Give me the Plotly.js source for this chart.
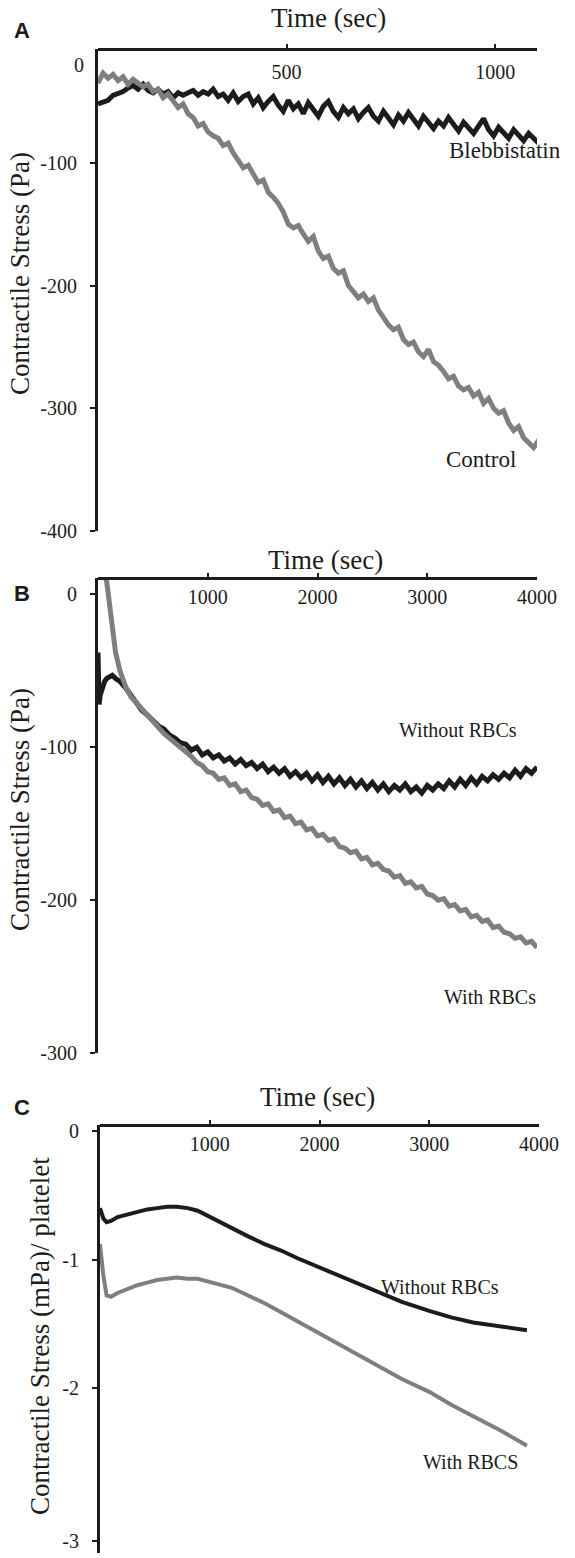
<!DOCTYPE html>
<html>
<head>
<meta charset="utf-8">
<script src="https://cdn.plot.ly/plotly-3.0.1.min.js"></script>
<style>html,body{margin:0;padding:0;background:#fff;}#chart{width:575px;height:1558px;}</style>
</head>
<body>
<div id="chart"></div>
<script>
// ---------- Panel A data ----------
const aTime = [48,60,72,84,96,108,120,132,144,156,168,180,192,204,216,228,240,252,264,276,288,300,312,324,336,348,360,372,384,396,408,420,432,444,456,468,480,492,504,516,528,540,552,564,576,588,600,612,624,636,648,660,672,684,696,708,720,732,744,756,768,780,792,804,816,828,840,852,864,876,888,900,912,924,936,948,960,972,984,996,1008,1020,1032,1044,1056,1068,1080,1092,1104,1116];
const aBlebbistatin = [-52,-50,-49,-45,-44,-42,-39,-37,-40,-36,-41,-43,-40,-44,-42,-47,-43,-45,-43,-41,-45,-42,-44,-40,-46,-44,-49,-43,-50,-46,-44,-52,-47,-55,-50,-46,-53,-58,-49,-56,-52,-60,-51,-57,-62,-54,-50,-58,-63,-55,-60,-56,-64,-59,-55,-62,-66,-58,-63,-69,-61,-66,-59,-64,-70,-62,-67,-72,-66,-70,-63,-68,-74,-67,-71,-76,-70,-64,-73,-78,-71,-76,-80,-73,-78,-82,-76,-80,-84,-80];
const aControl = [-35,-27,-31,-28,-33,-30,-36,-32,-35,-38,-36,-42,-40,-47,-44,-50,-55,-52,-60,-63,-70,-68,-75,-78,-80,-86,-84,-92,-99,-104,-102,-110,-116,-114,-124,-128,-133,-140,-150,-153,-151,-158,-164,-160,-172,-178,-176,-186,-190,-188,-200,-205,-210,-207,-213,-210,-220,-226,-232,-236,-234,-244,-248,-246,-254,-258,-252,-262,-265,-270,-276,-274,-282,-285,-283,-290,-287,-296,-292,-300,-304,-302,-312,-318,-315,-324,-328,-332,-326,-334];
const aXTicks = [500, 1000];
const aYTicks = [-100, -200, -300, -400];

// ---------- Panel B data ----------
const bTime = [0,10,20,40,60,80,100,130,160,200,250,300,350,400,450,500,550,600,650,700,750,800,850,900,950,1000,1050,1100,1150,1200,1250,1300,1350,1400,1450,1500,1550,1600,1650,1700,1750,1800,1850,1900,1950,2000,2050,2100,2150,2200,2250,2300,2350,2400,2450,2500,2550,2600,2650,2700,2750,2800,2850,2900,2950,3000,3050,3100,3150,3200,3250,3300,3350,3400,3450,3500,3550,3600,3650,3700,3750,3800,3850,3900,3950,4000];
const bWithoutRBCs = [-38,-72,-66,-61,-57,-55,-54,-53,-55,-57,-61,-66,-70,-76,-79,-83,-86,-88,-92,-94,-97,-98,-102,-100,-105,-103,-107,-105,-109,-107,-111,-108,-112,-110,-114,-111,-116,-113,-117,-114,-119,-116,-120,-117,-122,-118,-123,-119,-124,-120,-125,-121,-126,-122,-127,-123,-128,-124,-129,-125,-128,-124,-129,-126,-130,-125,-128,-124,-127,-122,-126,-121,-125,-120,-124,-119,-122,-118,-121,-117,-120,-115,-119,-114,-117,-113];
const bWithRBCs = [40,35,30,22,14,8,-4,-22,-38,-50,-60,-67,-71,-76,-80,-84,-88,-91,-94,-97,-99,-103,-106,-110,-112,-116,-117,-121,-120,-125,-124,-129,-128,-133,-134,-138,-137,-142,-141,-146,-145,-150,-149,-154,-153,-158,-157,-161,-160,-165,-166,-169,-168,-173,-172,-177,-176,-180,-181,-185,-184,-189,-188,-192,-191,-196,-197,-200,-199,-204,-203,-207,-206,-211,-210,-214,-213,-218,-217,-221,-222,-225,-224,-228,-227,-231];
const bXTicks = [1000, 2000, 3000, 4000];
const bYTicks = [0, -100, -200, -300];

// ---------- Panel C data ----------
const cTime = [0,30,60,100,160,250,340,430,520,610,700,800,890,980,1070,1200,1350,1500,1650,1800,2000,2250,2500,2750,3000,3200,3400,3650,3890];
const cWithoutRBCs = [-0.60,-0.68,-0.71,-0.70,-0.67,-0.65,-0.63,-0.61,-0.60,-0.59,-0.59,-0.60,-0.62,-0.66,-0.70,-0.76,-0.82,-0.88,-0.93,-0.99,-1.06,-1.15,-1.24,-1.33,-1.40,-1.45,-1.49,-1.52,-1.55];
const cWithRBCS = [-0.88,-1.12,-1.28,-1.29,-1.26,-1.23,-1.20,-1.18,-1.16,-1.15,-1.14,-1.15,-1.15,-1.17,-1.19,-1.22,-1.28,-1.34,-1.41,-1.48,-1.58,-1.69,-1.81,-1.93,-2.03,-2.13,-2.22,-2.33,-2.45];
const cXTicks = [1000, 2000, 3000, 4000];
const cYTicks = [0, -1, -2, -3];

// ---------- styling ----------
const W = 575, H = 1558;
const BLACK = '#1c1c1c', GRAY = '#7f7f7f';
const SERIF = "'Liberation Serif', 'Times New Roman', serif";
const SANS = "'Liberation Sans', Arial, sans-serif";
const px2x = p => p / W;
const px2y = p => 1 - p / H;

function xAxis(domain, range, tickvals, linePx, standoff) {
  return {
    domain: domain, range: range, side: 'bottom', anchor: 'free', position: px2y(linePx),
    tickvals: tickvals, ticktext: tickvals.map(String),
    ticks: 'inside', ticklen: 4, tickwidth: 2, tickcolor: BLACK,
    ticklabelstandoff: standoff, ticklabeloverflow: 'allow',
    showline: true, linewidth: 3, linecolor: BLACK,
    showgrid: false, zeroline: false,
    tickfont: {family: SERIF, size: 20, color: BLACK}
  };
}
function yAxis(domain, range, tickvals, ticktext, anchor) {
  return {
    domain: domain, range: range, anchor: anchor,
    tickvals: tickvals, ticktext: ticktext,
    ticks: 'outside', ticklen: 5, tickwidth: 2, tickcolor: BLACK,
    ticklabelstandoff: 9, ticklabeloverflow: 'allow',
    showline: true, linewidth: 3, linecolor: BLACK,
    showgrid: false, zeroline: false,
    tickfont: {family: SERIF, size: 20, color: BLACK}
  };
}

const traces = [
  {x: aTime, y: aBlebbistatin, xaxis: 'x', yaxis: 'y', mode: 'lines', line: {color: BLACK, width: 5}, name: 'Blebbistatin'},
  {x: aTime, y: aControl, xaxis: 'x', yaxis: 'y', mode: 'lines', line: {color: GRAY, width: 5}, name: 'Control'},
  {x: bTime, y: bWithoutRBCs, xaxis: 'x2', yaxis: 'y2', mode: 'lines', line: {color: BLACK, width: 5}, name: 'Without RBCs'},
  {x: bTime, y: bWithRBCs, xaxis: 'x2', yaxis: 'y2', mode: 'lines', line: {color: GRAY, width: 5}, name: 'With RBCs'},
  {x: cTime, y: cWithoutRBCs, xaxis: 'x3', yaxis: 'y3', mode: 'lines', line: {color: BLACK, width: 4}, name: 'Without RBCs'},
  {x: cTime, y: cWithRBCS, xaxis: 'x3', yaxis: 'y3', mode: 'lines', line: {color: GRAY, width: 4}, name: 'With RBCS'}
];

const tickFont = {family: SERIF, size: 20, color: BLACK};
const titleFont = {family: SERIF, size: 27, color: BLACK};
const labelFontA = {family: SERIF, size: 23, color: BLACK};
const labelFont = {family: SERIF, size: 20, color: BLACK};
const letterFont = {family: SANS, size: 22, color: BLACK};
function ann(text, xpx, ypx, font, angle) {
  return {text: text, xref: 'paper', yref: 'paper', x: px2x(xpx), y: px2y(ypx),
          xanchor: 'center', yanchor: 'middle', showarrow: false, font: font, textangle: angle || 0};
}

// C axis: the bottom "-3" mark sits near the end of the drawn axis, as in the original figure
const cRange = [-3.284, 0.047];
const cTickPos = [0, -1, -2, -3.19];

const layout = {
  width: W, height: H,
  margin: {l: 0, r: 0, t: 0, b: 0},
  paper_bgcolor: '#fff', plot_bgcolor: '#fff',
  showlegend: false,
  xaxis: xAxis([px2x(98), px2x(537)], [48, 1100], aXTicks, 49.3, 4),
  yaxis: yAxis([px2y(531), px2y(49.3)], [-400, -7.5], aYTicks, aYTicks.map(String), 'x'),
  xaxis2: xAxis([px2x(98), px2x(537)], [0, 4000], bXTicks, 578.3, 0),
  yaxis2: yAxis([px2y(1053), px2y(578.3)], [-300, 10.5], bYTicks, bYTicks.map(String), 'x2'),
  xaxis3: xAxis([px2x(100), px2x(539)], [0, 4000], cXTicks, 1125, 0),
  yaxis3: yAxis([px2y(1553), px2y(1125)], cRange, cTickPos, cYTicks.map(String), 'x3'),
  annotations: [
    ann('<b>A</b>', 22, 30, letterFont),
    ann('<b>B</b>', 22, 594, letterFont),
    ann('<b>C</b>', 22, 1107, letterFont),
    ann('Time (sec)', 328, 18, titleFont),
    ann('Time (sec)', 325, 560, titleFont),
    ann('Time (sec)', 317, 1097, titleFont),
    ann('Contractile Stress (Pa)', 20, 274, titleFont, -90),
    ann('Contractile Stress (Pa)', 20, 810, titleFont, -90),
    ann('Contractile Stress (mPa)/ platelet', 40, 1336, titleFont, -90),
    ann('0', 79, 65, tickFont),
    ann('Blebbistatin', 505, 150, labelFontA),
    ann('Control', 481, 460, labelFontA),
    ann('Without RBCs', 458, 730, labelFont),
    ann('With RBCs', 490, 997, labelFont),
    ann('Without RBCs', 440, 1287, labelFont),
    ann('With RBCS', 470, 1462, labelFont)
  ]
};

Plotly.newPlot('chart', traces, layout, {displayModeBar: false, staticPlot: true});
</script>
</body>
</html>
